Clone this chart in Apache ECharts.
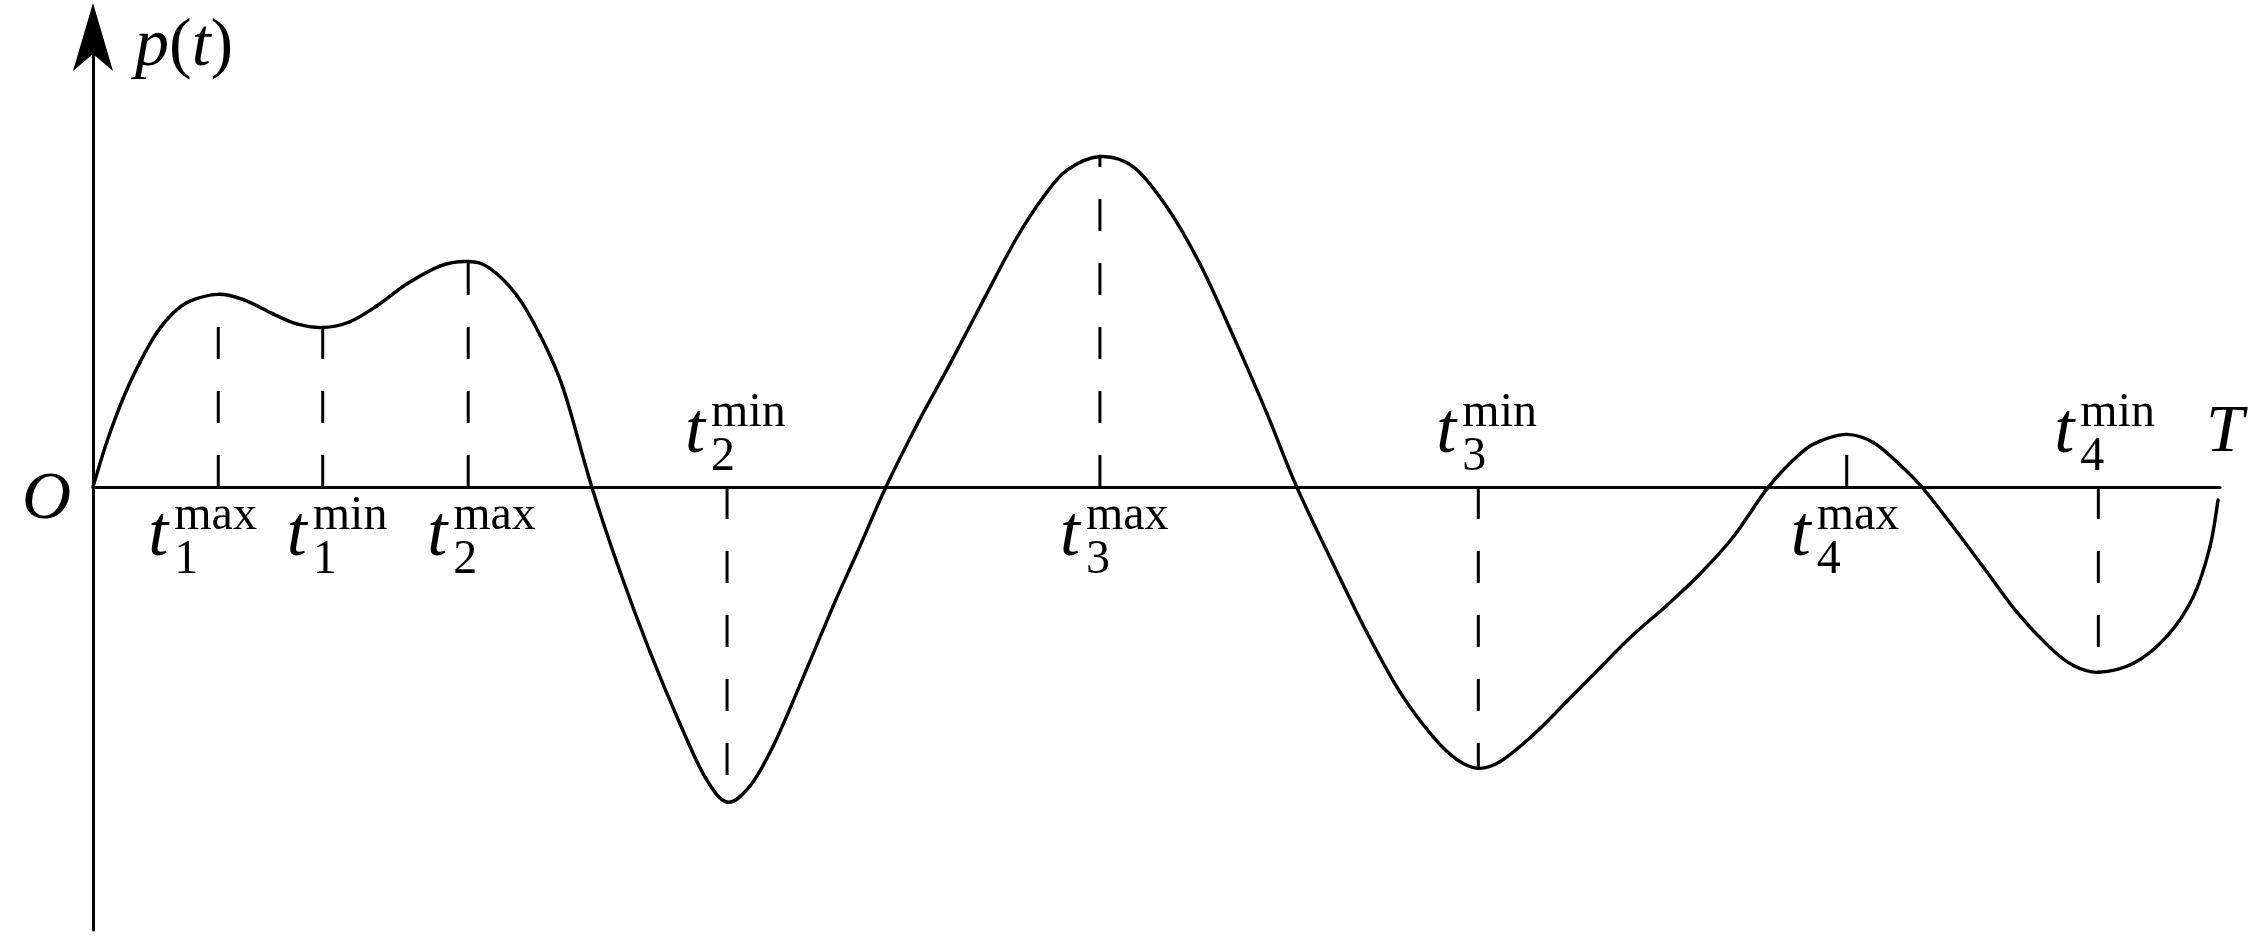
<!DOCTYPE html>
<html><head><meta charset="utf-8">
<script src="https://cdn.jsdelivr.net/npm/echarts@6/dist/echarts.min.js"></script>
<style>html,body{margin:0;padding:0;background:#fff}#c{width:2268px;height:942px}</style>
</head><body><div id="c"></div>
<script>
// ---- data (t in 0..100 along T, p(t) in arbitrary units) ----
const curveT = [0, 0.64, 1.42, 2.21, 2.99, 3.78, 4.56, 5.89, 7.07, 8.48, 9.58, 10.80, 12.08, 13.34, 14.75, 16.31,
  17.64, 18.66, 19.92, 21.02, 22.11, 23.45, 24.78, 26.19, 27.60, 28.77, 29.81, 30.89, 31.98, 33.24, 34.80,
  35.90, 37.28, 38.72, 40.29, 41.86, 43.43, 44.68, 45.78, 47.34, 48.91, 50.48, 52.04, 53.61, 55.18, 56.59,
  58.31, 59.88, 61.45, 63.01, 64.11, 65.13, 66.15, 67.72, 69.29, 70.85, 72.42, 73.99, 75.55, 77.12, 78.77,
  80.26, 81.20, 82.45, 83.70, 84.96, 85.98, 87.31, 88.88, 90.45, 92.01, 93.11, 94.28, 95.93, 97.50, 98.75,
  99.53, 99.91];
const curveP = [0, 9.9, 19.8, 27.8, 34.3, 38.8, 41.4, 42.9, 41.7, 38.5, 36.3, 35.5, 36.8, 40.3, 45.2, 49.2,
  50.2, 48.7, 42.7, 33.8, 21.9, 0, -18.9, -36.8, -52.8, -64.6, -70.2, -66.6, -57.7, -44.1, -26.5,
  -14.9, 0, 13.7, 27.4, 41.6, 55.5, 64.6, 70.5, 73.6, 71.3, 62.4, 49.7, 33.6, 16.5, 0,
  -17.2, -32.3, -45.7, -55.7, -60.7, -62.7, -61.2, -55.2, -47.8, -40.3, -32.9, -26.4, -19.4, -11.1, 0,
  7.4, 10.2, 11.7, 9.9, 4.9, 0, -8.0, -17.9, -27.9, -35.8, -39.8, -41.3, -39.3, -33.3, -24.4,
  -13.3, -2.9];
const extremaT = [5.89, 10.80, 17.64, 29.81, 47.34, 65.13, 82.45, 94.28];
const extremaP = [42.9, 35.5, 50.2, -70.2, 73.6, -62.7, 11.7, -41.3];
const extremaSub = ['1', '1', '2', '2', '3', '3', '4', '4'];
const extremaSup = ['max', 'min', 'max', 'min', 'max', 'min', 'max', 'min'];
const axisNameX = 'T';
const originName = 'O';

// ---- layout / style ----
const SERIF = '"Liberation Serif", "Times New Roman", serif';
const MAIN = 68, TSIZE = 72, SMALL = 48, LW = 3, CW = 3.4;
const labelDx = [-70, -36, -41, -42, -40, -42, -56, -44];
const MID = 0.34; // middle-to-baseline factor

function txt(x, baseline, text, size, italic, align) {
  return { type: 'text', x: x, y: baseline - MID * size, silent: true,
    style: { text: text, fill: '#000', fontFamily: SERIF, fontSize: size,
      fontStyle: italic ? 'italic' : 'normal', align: align || 'left', verticalAlign: 'middle' } };
}

const n = curveT.length;
function pt(api, j) { j = Math.max(0, Math.min(n - 1, j)); return api.coord([curveT[j], curveP[j]]); }

const chart = echarts.init(document.getElementById('c'), null, { renderer: 'canvas' });
chart.setOption({
  animation: false,
  backgroundColor: '#fff',
  grid: { left: 93, right: 48, top: 38, bottom: 12 },
  xAxis: { type: 'value', min: 0, max: 100,
    axisLine: { show: true, onZero: true, lineStyle: { color: '#000', width: LW } },
    axisTick: { show: false }, axisLabel: { show: false }, splitLine: { show: false } },
  yAxis: { type: 'value', min: -98.7, max: 100,
    axisLine: { show: true, onZero: true, symbol: ['none', 'arrow'], symbolSize: [30, 68],
      symbolOffset: [0, 35], lineStyle: { color: '#000', width: LW } },
    axisTick: { show: false }, axisLabel: { show: false }, splitLine: { show: false } },
  series: [
    { type: 'custom', name: 'p(t)', silent: true, clip: false,
      data: curveT.map((t, i) => [t, curveP[i]]),
      renderItem: function (params, api) {
        const i = params.dataIndex;
        if (i >= n - 1) return null;
        const p0 = pt(api, i - 1), p1 = pt(api, i), p2 = pt(api, i + 1), p3 = pt(api, i + 2);
        return { type: 'bezierCurve',
          shape: { x1: p1[0], y1: p1[1], x2: p2[0], y2: p2[1],
            cpx1: p1[0] + (p2[0] - p0[0]) / 6, cpy1: p1[1] + (p2[1] - p0[1]) / 6,
            cpx2: p2[0] - (p3[0] - p1[0]) / 6, cpy2: p2[1] - (p3[1] - p1[1]) / 6 },
          style: { stroke: '#000', lineWidth: CW, fill: null, lineCap: 'round' } };
      } },
    { type: 'custom', silent: true, clip: false,
      data: extremaT.map((t, i) => [t, extremaP[i]]),
      renderItem: function (params, api) {
        const i = params.dataIndex;
        const t = api.value(0), p = api.value(1);
        const base = api.coord([t, 0]);
        const end = api.coord([t, p]);
        const above = p < 0;
        const L = base[0] + labelDx[i];
        const B = above ? base[1] - 29 : base[1] + 74;
        return { type: 'group', children: [
          { type: 'line', shape: { x1: base[0], y1: base[1], x2: end[0], y2: end[1] },
            style: { stroke: '#000', lineWidth: LW, lineDash: [32, 32], fill: null } },
          txt(L, B, 't', TSIZE, true),
          txt(L + 26, B - 28, extremaSup[i], SMALL, false),
          txt(L + 26, B + 16, extremaSub[i], SMALL, false)
        ] };
      } }
  ]
});

const o = chart.convertToPixel({ gridIndex: 0 }, [0, 0]);
const xe = chart.convertToPixel({ gridIndex: 0 }, [100, 0]);
const yt = chart.convertToPixel({ gridIndex: 0 }, [0, 100]);
chart.setOption({ graphic: [
  txt(o[0] - 71, o[1] + 36, originName, MAIN, true),
  txt(xe[0] - 14, xe[1] - 31, axisNameX, MAIN, true),
  { type: 'text', x: yt[0] + 42, y: yt[1] + 32 - MID * MAIN, silent: true,
    style: { text: '{i|p}{r|(}{i|t}{r|)}', verticalAlign: 'middle', align: 'left',
      rich: { i: { fontFamily: SERIF, fontSize: MAIN, fontStyle: 'italic', fill: '#000' },
              r: { fontFamily: SERIF, fontSize: MAIN, fontStyle: 'normal', fill: '#000' } } } }
] });
</script></body></html>
